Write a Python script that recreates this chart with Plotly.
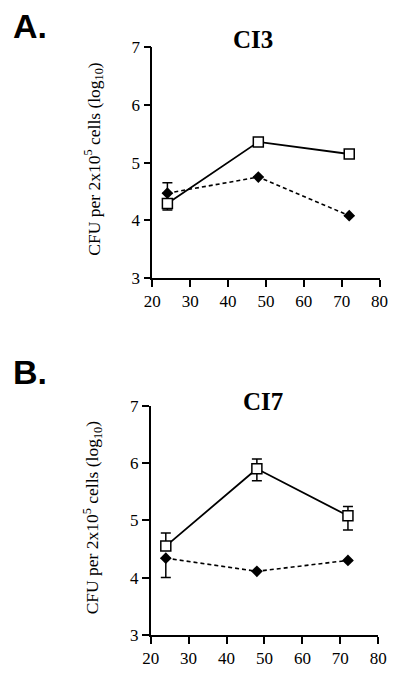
import plotly.graph_objects as go

# ---- data ----
hours = [24, 48, 72]

# Panel A (CI3)
a_open = [4.29, 5.36, 5.15]
a_open_err_plus = [None, None, None]
a_open_err_minus = [0.11, None, None]
a_filled = [4.47, 4.75, 4.08]
a_filled_err_plus = [0.18, None, None]
a_filled_err_minus = [None, None, None]

# Panel B (CI7)
b_open = [4.55, 5.90, 5.08]
b_open_err_plus = [0.23, 0.17, 0.16]
b_open_err_minus = [None, 0.21, 0.25]
b_filled = [4.34, 4.11, 4.30]
b_filled_err_plus = [None, None, None]
b_filled_err_minus = [0.34, None, None]

x_ticks = [20, 30, 40, 50, 60, 70, 80]
y_ticks = [3, 4, 5, 6, 7]
titles = ["CI3", "CI7"]
panel_labels = ["A.", "B."]
y_title = "CFU per 2x10<sup>5</sup> cells (log<sub>10</sub>)"

H = 675.0
W = 400.0


def py(p):
    return 1 - p / H


SERIF = "Liberation Serif, Times New Roman, serif"
SANS = "Liberation Sans, Arial, sans-serif"

fig = go.Figure()


def err(plus, minus):
    return dict(type="data", symmetric=False,
                array=[v if v is not None else float("nan") for v in plus],
                arrayminus=[v if v is not None else float("nan") for v in minus],
                color="black", thickness=1.5, width=5)


def add_panel(xa, ya, opn, opn_p, opn_m, fil, fil_p, fil_m):
    fig.add_trace(go.Scatter(
        x=hours, y=fil, xaxis=xa, yaxis=ya, mode="lines+markers",
        line=dict(color="black", width=1.6, dash="4px,3px"),
        marker=dict(symbol="diamond", size=9, color="black"),
        error_y=err(fil_p, fil_m), showlegend=False))
    fig.add_trace(go.Scatter(
        x=hours, y=opn, xaxis=xa, yaxis=ya, mode="lines+markers",
        line=dict(color="black", width=1.8),
        marker=dict(symbol="square", size=10, color="white",
                    line=dict(color="black", width=1.5)),
        error_y=err(opn_p, opn_m), showlegend=False))


add_panel("x", "y", a_open, a_open_err_plus, a_open_err_minus,
          a_filled, a_filled_err_plus, a_filled_err_minus)
add_panel("x2", "y2", b_open, b_open_err_plus, b_open_err_minus,
          b_filled, b_filled_err_plus, b_filled_err_minus)

axis_common = dict(showgrid=False, zeroline=False, showline=True,
                   linecolor="black", linewidth=1.5, ticks="outside",
                   ticklen=7, tickwidth=1.5, tickcolor="black",
                   tickfont=dict(family=SERIF, size=17, color="black"))

fig.update_layout(
    width=400, height=675,
    margin=dict(l=0, r=0, t=0, b=0),
    paper_bgcolor="white", plot_bgcolor="white",
    xaxis=dict(domain=[150 / W, 388 / W], range=[20, 80], tickvals=x_ticks,
               anchor="y", **axis_common),
    yaxis=dict(domain=[py(276.7), py(39.5)], range=[3, 7], tickvals=y_ticks,
               anchor="x", **axis_common),
    xaxis2=dict(domain=[148.3 / W, 386.7 / W], range=[20, 80], tickvals=x_ticks,
                anchor="y2", **axis_common),
    yaxis2=dict(domain=[py(644), py(408.3)], range=[3, 7], tickvals=y_ticks,
                anchor="x2", **axis_common),
)

annos = []
# panel labels
annos.append(dict(text="<b>%s</b>" % panel_labels[0], x=2 / W, y=py(17), xref="paper", yref="paper",
                  xanchor="left", yanchor="middle", showarrow=False,
                  font=dict(family=SANS, size=34, color="black")))
annos.append(dict(text="<b>%s</b>" % panel_labels[1], x=2 / W, y=py(373), xref="paper", yref="paper",
                  xanchor="left", yanchor="middle", showarrow=False,
                  font=dict(family=SANS, size=34, color="black")))
# titles
annos.append(dict(text="<b>%s</b>" % titles[0], x=255 / W, y=py(31), xref="paper", yref="paper",
                  xanchor="center", yanchor="middle", showarrow=False,
                  font=dict(family=SERIF, size=25, color="black")))
annos.append(dict(text="<b>%s</b>" % titles[1], x=266 / W, y=py(404), xref="paper", yref="paper",
                  xanchor="center", yanchor="middle", showarrow=False,
                  font=dict(family=SERIF, size=25, color="black")))
# y titles
annos.append(dict(text=y_title, textangle=-90, x=89 / W, y=py(154), xref="paper", yref="paper",
                  xanchor="center", yanchor="middle", showarrow=False,
                  font=dict(family=SERIF, size=17.5, color="black")))
annos.append(dict(text=y_title, textangle=-90, x=87 / W, y=py(523), xref="paper", yref="paper",
                  xanchor="center", yanchor="middle", showarrow=False,
                  font=dict(family=SERIF, size=17.5, color="black")))
fig.update_layout(annotations=annos)

fig.write_html("out.html",
               config={"displayModeBar": False},
               post_script="document.body.style.margin='0';document.body.style.overflow='hidden';")
